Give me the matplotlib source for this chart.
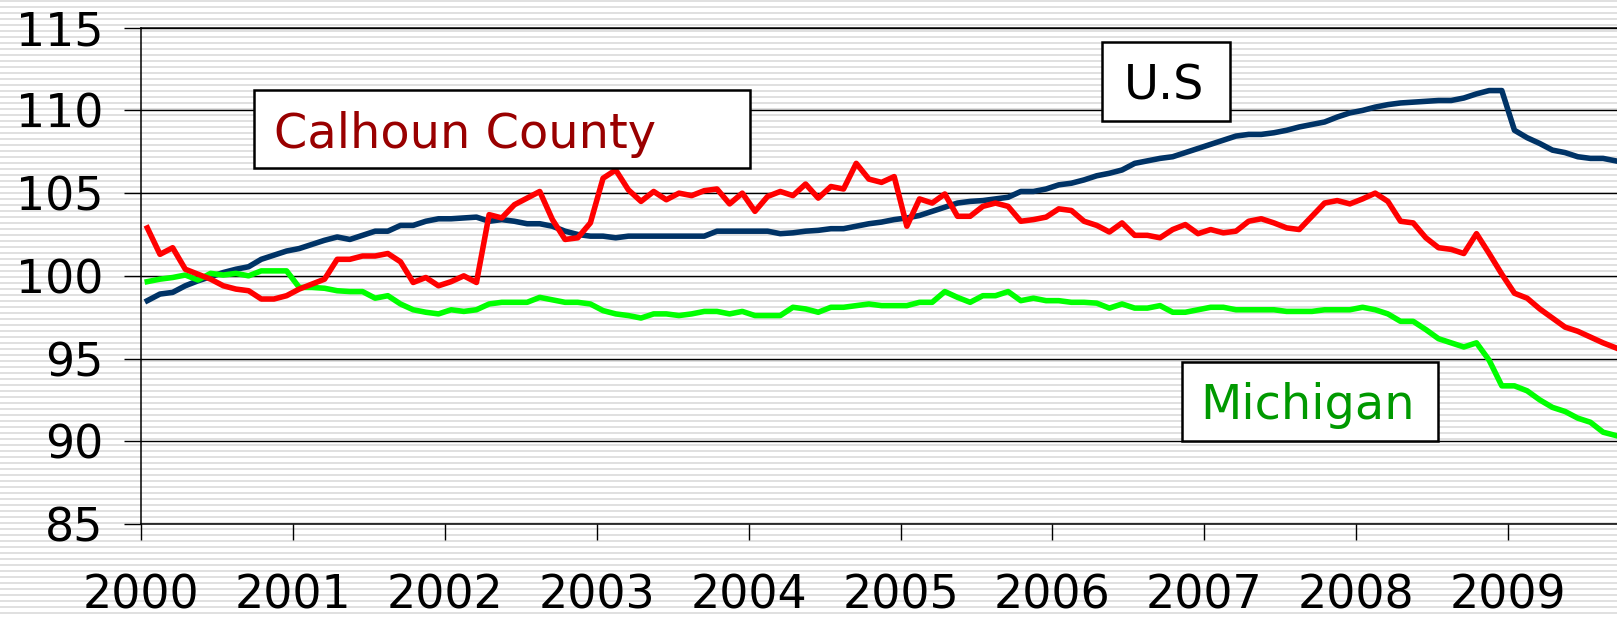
import numpy as np
import pandas as pd
import matplotlib
matplotlib.use("Agg")
import matplotlib.pyplot as plt
from matplotlib.patches import Rectangle

# monthly index values, Jan 2000 - Sep 2009
calhoun = [102.9, 101.3, 101.7, 100.4, 100.1, 99.8, 99.4, 99.2, 99.1, 98.6, 98.6, 98.8,
           99.2, 99.5, 99.8, 101.0, 101.0, 101.2, 101.2, 101.35, 100.85, 99.6, 99.9, 99.4,
           99.65, 100.0, 99.6, 103.7, 103.5, 104.3, 104.7, 105.1, 103.4, 102.2, 102.3, 103.2,
           105.9, 106.4, 105.2, 104.5, 105.1, 104.6, 105.0, 104.85, 105.15, 105.25, 104.35, 105.0,
           103.9, 104.8, 105.1, 104.85, 105.55, 104.7, 105.4, 105.25, 106.8, 105.85, 105.65, 106.0,
           103.0, 104.65, 104.4, 104.95, 103.6, 103.6, 104.2, 104.4, 104.2, 103.3, 103.4, 103.55,
           104.05, 103.95, 103.3, 103.05, 102.65, 103.2, 102.45, 102.45, 102.3, 102.8, 103.1, 102.55,
           102.8, 102.6, 102.7, 103.3, 103.45, 103.2, 102.9, 102.8, 103.6, 104.4, 104.55, 104.35,
           104.65, 105.0, 104.5, 103.3, 103.2, 102.3, 101.7, 101.6, 101.35, 102.55, 101.35, 100.1,
           98.95, 98.65, 98.0, 97.45, 96.9, 96.65, 96.3, 95.95, 95.65]
us = [98.5, 98.9, 99.0, 99.4, 99.7, 99.95, 100.2, 100.4, 100.55, 101.0, 101.25, 101.5,
      101.65, 101.9, 102.15, 102.35, 102.2, 102.45, 102.7, 102.7, 103.05, 103.05, 103.3, 103.45,
      103.45, 103.5, 103.55, 103.3, 103.4, 103.3, 103.15, 103.15, 103.0, 102.7, 102.5, 102.4,
      102.4, 102.3, 102.4, 102.4, 102.4, 102.4, 102.4, 102.4, 102.4, 102.7, 102.7, 102.7,
      102.7, 102.7, 102.55, 102.6, 102.7, 102.75, 102.85, 102.85, 103.0, 103.15, 103.25, 103.4,
      103.5, 103.65, 103.9, 104.15, 104.4, 104.5, 104.55, 104.65, 104.75, 105.1, 105.1, 105.25,
      105.5, 105.6, 105.8, 106.05, 106.2, 106.4, 106.8, 106.95, 107.1, 107.2, 107.45, 107.7,
      107.95, 108.2, 108.45, 108.55, 108.55, 108.65, 108.8, 109.0, 109.15, 109.3, 109.6, 109.85,
      110.0, 110.2, 110.35, 110.45, 110.5, 110.55, 110.6, 110.6, 110.75, 111.0, 111.2, 111.2,
      108.8, 108.35, 108.0, 107.6, 107.45, 107.2, 107.1, 107.1, 106.95]
michigan = [99.65, 99.8, 99.9, 100.05, 99.75, 100.15, 100.05, 100.15, 100.0, 100.3, 100.3, 100.3,
            99.3, 99.3, 99.25, 99.1, 99.05, 99.05, 98.65, 98.8, 98.3, 97.95, 97.8, 97.7,
            97.95, 97.85, 97.95, 98.3, 98.4, 98.4, 98.4, 98.7, 98.55, 98.4, 98.4, 98.3,
            97.9, 97.7, 97.6, 97.45, 97.7, 97.7, 97.6, 97.7, 97.85, 97.85, 97.7, 97.85,
            97.6, 97.6, 97.6, 98.1, 98.0, 97.8, 98.1, 98.1, 98.2, 98.3, 98.2, 98.2,
            98.2, 98.4, 98.4, 99.05, 98.7, 98.4, 98.8, 98.8, 99.05, 98.5, 98.65, 98.5,
            98.5, 98.4, 98.4, 98.35, 98.05, 98.3, 98.05, 98.05, 98.2, 97.8, 97.8, 97.95,
            98.1, 98.1, 97.95, 97.95, 97.95, 97.95, 97.85, 97.85, 97.85, 97.95, 97.95, 97.95,
            98.1, 97.95, 97.7, 97.25, 97.25, 96.75, 96.2, 95.95, 95.7, 95.95, 94.9, 93.35,
            93.35, 93.05, 92.5, 92.05, 91.8, 91.4, 91.15, 90.55, 90.35]
years = list(range(2000, 2010))
yticks = [85, 90, 95, 100, 105, 110, 115]

months = pd.date_range("2000-01-01", periods=len(us), freq="MS")
x = months.year + (months.month - 0.5) / 12

W, H = 1617, 618
fig = plt.figure(figsize=(W / 100, H / 100), dpi=100)
fig.patch.set_facecolor("white")

# striped background
rows = np.arange(H)
bg = np.where((rows % 6) < 2, 0.88, 1.0)
img = np.repeat(bg[:, None], W, axis=1)
img = np.dstack([img, img, img])
fig.figimage(img, xo=0, yo=0, origin="upper", zorder=-1)

def fx(px):
    return px / W

def fy(py):
    return 1 - py / H

ax = fig.add_axes([fx(141), fy(524), 1 - fx(141), fy(27.7) - fy(524)])
ax.set_facecolor("none")

ax.plot(x, us, color="#003366", lw=4.0, zorder=3)
ax.plot(x, michigan, color="#00ff00", lw=4.0, zorder=3)
ax.plot(x, calhoun, color="#ff0000", lw=4.0, zorder=4)

ax.set_xlim(2000, 2000 + 116.6 / 12)
ax.set_ylim(85, 115)
ax.set_yticks(yticks)
ax.set_xticks(years)
ax.set_xticklabels([str(y) for y in years])
ax.yaxis.grid(True, color="black", lw=1.0)
ax.set_axisbelow(True)

ax.spines["right"].set_visible(False)
for s in ["left", "bottom", "top"]:
    ax.spines[s].set_linewidth(1.1)
    ax.spines[s].set_color("black")

ax.tick_params(axis="y", direction="out", length=12, width=1.0, pad=15, labelsize=33)
ax.tick_params(axis="x", direction="out", length=11.5, width=1.0, pad=24, labelsize=33)

# label boxes
boxes = [
    (254, 90, 750, 168, "Calhoun County", "#990000", 274, 148),
    (1102, 42, 1230, 121, "U.S", "black", 1124, 100),
    (1182, 362, 1438, 441, "Michigan", "#009900", 1200, 419),
]
for x0, y0, x1, y1, label, col, tx, ty in boxes:
    fig.add_artist(Rectangle((fx(x0), fy(y1)), fx(x1) - fx(x0), fy(y0) - fy(y1),
                             transform=fig.transFigure, facecolor="white",
                             edgecolor="black", lw=1.8, zorder=5))
    fig.text(fx(tx), fy(ty), label, color=col, fontsize=34.5, ha="left",
             va="baseline", zorder=6)

fig.savefig("out.png", dpi=100)
